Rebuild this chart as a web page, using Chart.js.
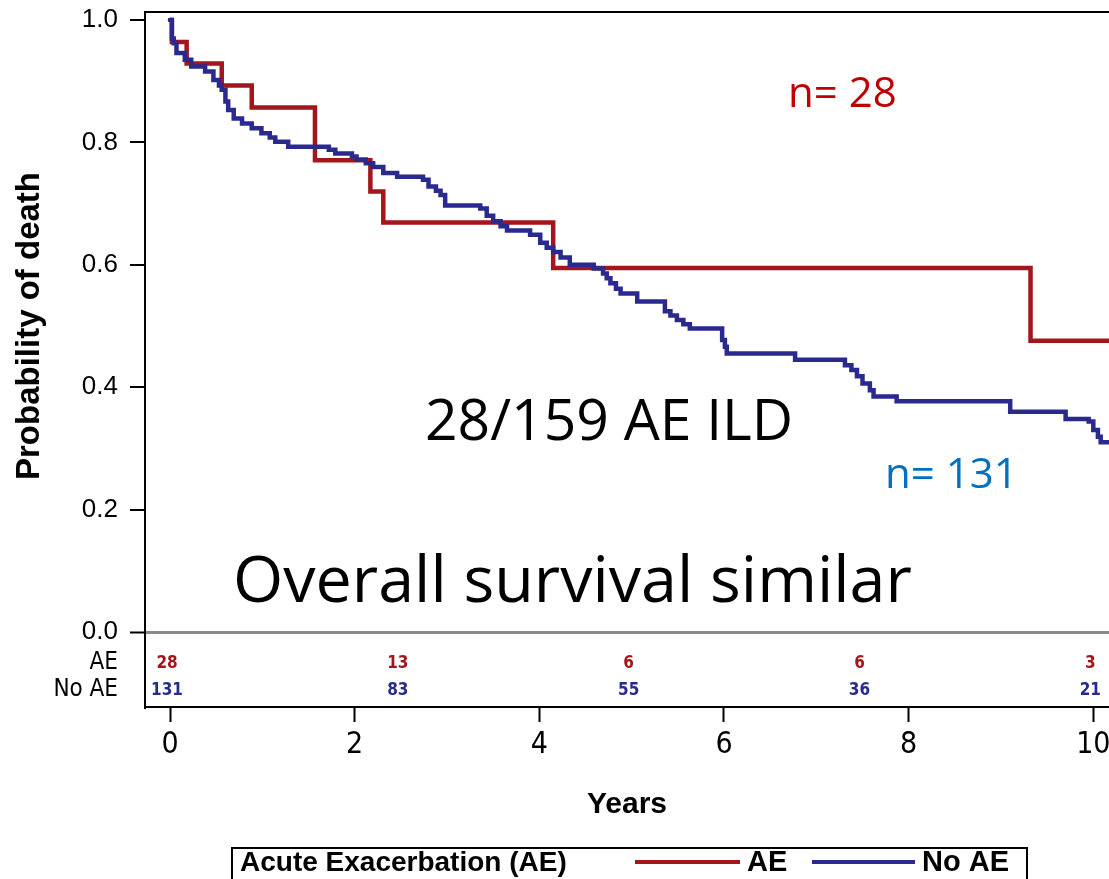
<!DOCTYPE html>
<html>
<head>
<meta charset="utf-8">
<title>Acute exacerbation ILD survival</title>
<script src="https://cdn.jsdelivr.net/npm/chart.js@4.4.1/dist/chart.umd.min.js"></script>
<style>
  html, body { margin: 0; padding: 0; background: #fff; }
  #wrap { width: 1109px; height: 879px; position: relative; overflow: hidden; }
  canvas { display: block; }
</style>
</head>
<body>
<div id="wrap"><canvas id="km" width="1109" height="879"></canvas></div>
<script>
// Kaplan-Meier estimates (years, probability)
const aeTimes = [0, 0.02, 0.18, 0.56, 0.885, 1.57, 2.17, 2.31, 4.15, 9.32, 10.3];
const aeSurv  = [1.000, 0.964, 0.929, 0.893, 0.857, 0.771, 0.720, 0.669, 0.595, 0.476, 0.476];

const noAeTimes = [0, 0.02, 0.04, 0.07, 0.16, 0.23, 0.38, 0.47, 0.53, 0.56,
  0.60, 0.63, 0.69, 0.78, 0.885, 0.99, 1.08, 1.14, 1.28, 1.72,
  1.79, 1.97, 2.02, 2.12, 2.20, 2.31, 2.46, 2.74, 2.80, 2.88,
  2.93, 2.98, 3.36, 3.43, 3.50, 3.58, 3.65, 3.90, 4.01, 4.08,
  4.15, 4.23, 4.33, 4.59, 4.69, 4.73, 4.77, 4.83, 4.88, 5.06,
  5.36, 5.42, 5.49, 5.56, 5.63, 5.98, 6.01, 6.03, 6.77, 7.31,
  7.38, 7.44, 7.50, 7.58, 7.62, 7.87, 9.10, 9.70, 9.95, 10.00,
  10.05, 10.08, 10.3];
const noAeSurv = [1.000, 0.970, 0.962, 0.946, 0.935, 0.924, 0.916, 0.902, 0.893, 0.886,
  0.867, 0.853, 0.839, 0.831, 0.823, 0.815, 0.808, 0.801, 0.793, 0.788,
  0.782, 0.777, 0.772, 0.766, 0.760, 0.750, 0.744, 0.739, 0.728, 0.721,
  0.714, 0.697, 0.692, 0.680, 0.671, 0.663, 0.656, 0.649, 0.636, 0.628,
  0.621, 0.612, 0.600, 0.594, 0.586, 0.578, 0.570, 0.561, 0.553, 0.540,
  0.524, 0.517, 0.510, 0.503, 0.496, 0.477, 0.466, 0.455, 0.445, 0.436,
  0.428, 0.418, 0.406, 0.395, 0.385, 0.377, 0.360, 0.348, 0.344, 0.330,
  0.319, 0.310, 0.310];

// Axis ticks
const yearTicks = [0, 2, 4, 6, 8, 10];
const probTicks = [0.0, 0.2, 0.4, 0.6, 0.8, 1.0];

// Number at risk
const riskTimes = [0, 2.5, 5, 7.5, 10];
const riskAE    = [28, 13, 6, 6, 3];
const riskNoAE  = [131, 83, 55, 36, 21];

const groupNames = ['AE', 'No AE'];
const legendTitle = 'Acute Exacerbation (AE)';
const notes = ['n= 28', '28/159 AE ILD', 'n= 131', 'Overall survival similar'];

const RED = '#a3161b';
const BLUE = '#2a2a8e';
const SANS = "'Liberation Sans', Arial, sans-serif";
const NARROW = "'Liberation Sans Narrow', 'DejaVu Sans Condensed', 'Liberation Sans', sans-serif";
const SLIDE = "'Open Sans', 'Noto Sans', sans-serif";

const toPoints = (ts, ss) => ts.map((t, i) => ({ x: t, y: ss[i] }));

const decor = {
  id: 'kmDecor',
  afterDraw(chart) {
    const { ctx, chartArea: a, scales: { x, y } } = chart;
    ctx.save();

    // frame top edge
    ctx.strokeStyle = '#000';
    ctx.lineWidth = 2;
    ctx.beginPath();
    ctx.moveTo(a.left, a.top);
    ctx.lineTo(a.right, a.top);
    ctx.stroke();

    // vertical axis title, centred on the probability range
    ctx.save();
    ctx.translate(30, y.getPixelForValue(0.5));
    ctx.rotate(-Math.PI / 2);
    ctx.font = `bold 33px ${SANS}`;
    ctx.fillStyle = '#000';
    ctx.textAlign = 'center';
    ctx.textBaseline = 'middle';
    ctx.fillText('Probability of death', 0, 0);
    ctx.restore();

    // number-at-risk table
    const rows = [
      { label: groupNames[0], vals: riskAE, color: RED, v: -0.051 },
      { label: groupNames[1], vals: riskNoAE, color: BLUE, v: -0.095 }
    ];
    rows.forEach(r => {
      const py = y.getPixelForValue(r.v);
      ctx.textBaseline = 'middle';
      ctx.fillStyle = '#000';
      ctx.textAlign = 'right';
      ctx.font = `24px ${NARROW}`;
      ctx.fillText(r.label, 118, py);
      ctx.fillStyle = r.color;
      ctx.textAlign = 'center';
      ctx.font = `bold 17px ${NARROW}`;
      riskTimes.forEach((t, i) => ctx.fillText(String(r.vals[i]), x.getPixelForValue(t) - 3, py));
    });

    // slide annotations
    ctx.textAlign = 'left';
    ctx.textBaseline = 'alphabetic';
    ctx.font = `42px ${SLIDE}`;
    ctx.fillStyle = '#c00000';
    ctx.fillText(notes[0], 788, 107);
    ctx.fillStyle = '#000';
    ctx.font = `57px ${SLIDE}`;
    ctx.fillText(notes[1], 425, 440);
    ctx.fillStyle = '#0070c0';
    ctx.font = `42px ${SLIDE}`;
    ctx.fillText(notes[2], 885, 488);
    ctx.fillStyle = '#000';
    ctx.font = `64.6px ${SLIDE}`;
    ctx.fillText(notes[3], 233, 602);

    // legend box
    const ds = chart.data.datasets;
    ctx.strokeStyle = '#000';
    ctx.lineWidth = 2;
    ctx.strokeRect(232, 848, 795, 60);
    ctx.fillStyle = '#000';
    ctx.font = `bold 28px ${SANS}`;
    ctx.textBaseline = 'middle';
    ctx.fillText(legendTitle, 240, 863);
    const items = [{ x0: 635, x1: 740, tx: 747, ds: ds[0] }, { x0: 812, x1: 915, tx: 922, ds: ds[1] }];
    items.forEach(it => {
      ctx.strokeStyle = it.ds.borderColor;
      ctx.lineWidth = 4;
      ctx.beginPath();
      ctx.moveTo(it.x0, 862);
      ctx.lineTo(it.x1, 862);
      ctx.stroke();
      ctx.fillStyle = '#000';
      ctx.font = `bold 29px ${SANS}`;
      ctx.fillText(it.ds.label, it.tx, 863);
    });

    ctx.restore();
  }
};

new Chart(document.getElementById('km'), {
  type: 'line',
  data: {
    datasets: [
      { label: groupNames[0], data: toPoints(aeTimes, aeSurv), borderColor: RED, borderWidth: 4.5, order: 1 },
      { label: groupNames[1], data: toPoints(noAeTimes, noAeSurv), borderColor: BLUE, borderWidth: 4.5, order: 0 }
    ]
  },
  options: {
    responsive: false,
    animation: false,
    devicePixelRatio: 1,
    layout: { padding: { left: 0, top: 12, right: 0, bottom: 56 } },
    elements: {
      line: { stepped: true, fill: false, borderCapStyle: 'round', borderJoinStyle: 'miter' },
      point: { radius: 0 }
    },
    plugins: { legend: { display: false }, tooltip: { enabled: false } },
    scales: {
      x: {
        type: 'linear',
        min: -0.271,
        max: 10.17,
        afterBuildTicks: s => { s.ticks = yearTicks.map(v => ({ value: v })); },
        afterFit: s => { s.height = 116; s.paddingLeft = 0; s.paddingRight = 0; },
        ticks: { color: '#000', padding: 5, maxRotation: 0, font: { family: NARROW, size: 30 } },
        grid: { drawOnChartArea: false, drawTicks: true, tickLength: 15, tickColor: '#000', tickWidth: 2 },
        border: { display: true, color: '#000', width: 2 },
        title: { display: true, text: 'Years', color: '#000', font: { family: SANS, size: 30, weight: 'bold' }, padding: 0 }
      },
      y: {
        type: 'linear',
        min: -0.1225,
        max: 1.0131,
        afterBuildTicks: s => { s.ticks = probTicks.map(v => ({ value: v })); },
        afterFit: s => { s.width = 145; s.paddingTop = 0; s.paddingBottom = 0; },
        ticks: { color: '#000', padding: 12, font: { family: SANS, size: 26 }, callback: v => Number(v).toFixed(1) },
        grid: {
          drawOnChartArea: true,
          drawTicks: true,
          tickLength: 15,
          tickColor: '#000',
          tickWidth: 2,
          color: c => (c.tick && c.tick.value === 0 ? '#8a8a8a' : 'rgba(0,0,0,0)'),
          lineWidth: c => (c.tick && c.tick.value === 0 ? 3 : 0)
        },
        border: { display: true, color: '#000', width: 2 }
      }
    }
  },
  plugins: [decor]
});
</script>
</body>
</html>
